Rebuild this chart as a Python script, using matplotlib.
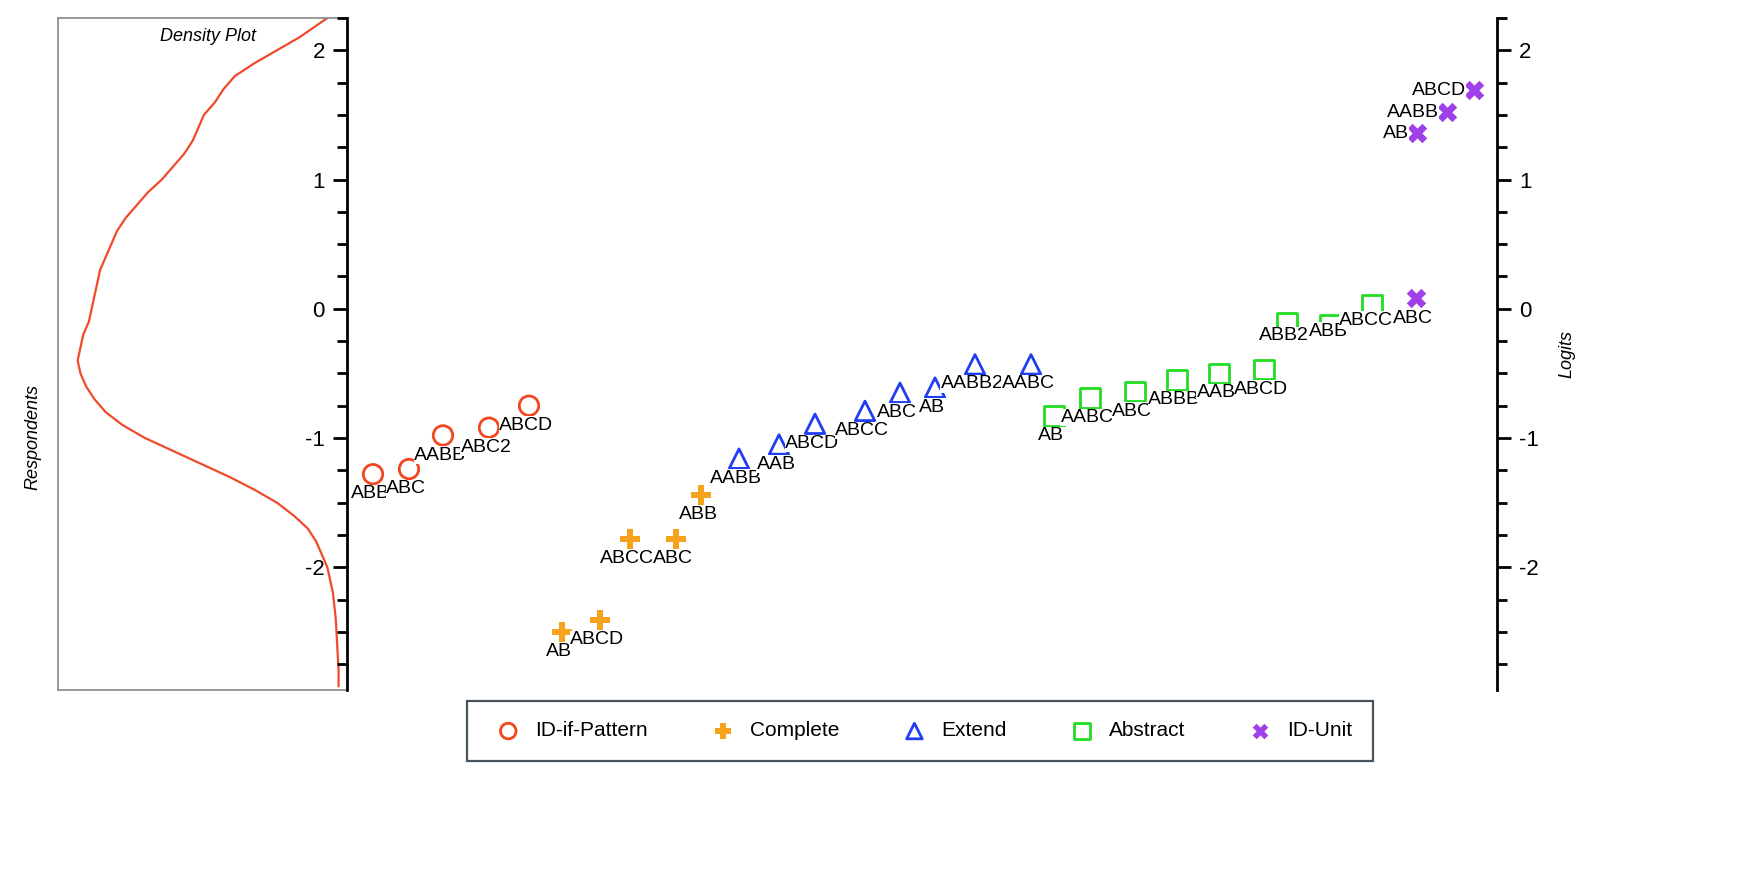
import matplotlib
matplotlib.use("Agg")
import matplotlib.pyplot as plt
from matplotlib.ticker import MultipleLocator, FuncFormatter
import numpy as np

plt.rcParams['font.family'] = ['Liberation Sans', 'DejaVu Sans']

# data: (position, logit, label)
idp_x = [26, 62, 96, 142, 182]
idp_y = [-1.28, -1.24, -0.98, -0.92, -0.75]
idp_l = ["ABB", "ABC", "AABB", "ABC2", "ABCD"]

comp_x = [215, 253, 283, 329, 354]
comp_y = [-2.50, -2.41, -1.78, -1.78, -1.44]
comp_l = ["AB", "ABCD", "ABCC", "ABC", "ABB"]

ext_x = [392, 432, 468, 518, 553, 588, 628, 684]
ext_y = [-1.16, -1.05, -0.89, -0.79, -0.65, -0.61, -0.43, -0.43]
ext_l = ["AABB", "AAB", "ABCD", "ABCC", "ABC", "AB", "AABB2", "AABC"]

abs_x = [707, 743, 788, 830, 872, 917, 940, 983, 1025]
abs_y = [-0.83, -0.69, -0.64, -0.55, -0.50, -0.47, -0.11, -0.12, 0.03]
abs_l = ["AB", "AABC", "ABC", "ABBB", "AAB", "ABCD", "ABB2", "ABB", "ABCC"]
abs_side = ["below"] * 6 + ["below2", "center", "belowc"]

idu_x = [1069, 1070, 1100, 1127]
idu_y = [0.08, 1.36, 1.52, 1.69]
idu_l = ["ABC", "AB", "AABB", "ABCD"]
idu_side = ["below", "left", "left", "left"]

dens_y = [2.25, 2.1, 2.0, 1.9, 1.8, 1.7, 1.6, 1.5, 1.4, 1.3, 1.2, 1.1, 1.0, 0.9, 0.8, 0.7, 0.6, 0.5,
          0.4, 0.3, 0.2, 0.1, 0.0, -0.1, -0.2, -0.3, -0.4, -0.5, -0.6, -0.7, -0.8, -0.9, -1.0, -1.1,
          -1.2, -1.3, -1.4, -1.5, -1.6, -1.7, -1.8, -1.9, -2.0, -2.2, -2.4, -2.6, -2.8, -2.92]
dens_v = [0.07, 0.17, 0.25, 0.33, 0.40, 0.44, 0.47, 0.51, 0.53, 0.55, 0.58, 0.62, 0.66, 0.71, 0.75,
          0.79, 0.82, 0.84, 0.86, 0.88, 0.89, 0.90, 0.91, 0.92, 0.94, 0.95, 0.96, 0.95, 0.93, 0.90,
          0.86, 0.80, 0.72, 0.62, 0.52, 0.42, 0.33, 0.25, 0.19, 0.14, 0.11, 0.09, 0.07, 0.05, 0.04,
          0.035, 0.03, 0.03]

fig = plt.figure(figsize=(17.4, 8.74), dpi=100)
axd = fig.add_axes([58/1740, 1-690/874, 289/1740, 672/874])
ax = fig.add_axes([347/1740, 1-690/874, 1150/1740, 672/874])

ylim = (-2.95, 2.25)
axd.plot(dens_v, dens_y, color='#f04a2a', lw=1.6)
axd.set_xlim(1.03, 0)
axd.set_ylim(*ylim)
axd.set_xticks([]); axd.set_yticks([])
for s in axd.spines.values():
    s.set_color('#888888'); s.set_linewidth(1.2)
axd.spines['right'].set_visible(False)
axd.text(0.52, 0.985, "Density Plot", transform=axd.transAxes, ha='center', va='top', style='italic', fontsize=13)
fig.text(0.019, 0.5, "Respondents", rotation=90, va='center', ha='center', style='italic', fontsize=13)

ax.set_xlim(0, 1150)
ax.set_ylim(*ylim)
ax.set_xticks([])
for s in ['top', 'bottom']:
    ax.spines[s].set_visible(False)
for s in ['left', 'right']:
    ax.spines[s].set_linewidth(2)
ax.yaxis.set_major_locator(MultipleLocator(1))
ax.yaxis.set_minor_locator(MultipleLocator(0.25))
ax.tick_params(axis='y', which='both', left=True, right=True, labelleft=True, labelright=True,
               width=2, labelsize=16, pad=6)
ax.tick_params(axis='y', which='major', length=10)
ax.tick_params(axis='y', which='minor', length=7)
ax.yaxis.set_major_formatter(FuncFormatter(lambda v, p: f"{int(round(v))}"))
ax.yaxis.set_label_position('right')
ax.set_ylabel("Logits", style='italic', fontsize=13, labelpad=14)

ms = 14
ax.scatter(idp_x, idp_y, marker='o', s=ms**2, facecolors='none', edgecolors='#f2461f', linewidths=2, label='ID-if-Pattern', zorder=2)
ax.scatter(comp_x, comp_y, marker='P', s=ms**2, color='#f5a21c', linewidths=0, label='Complete', zorder=2)
ax.scatter(ext_x, ext_y, marker='^', s=ms**2, facecolors='none', edgecolors='#1f3df2', linewidths=2, label='Extend', zorder=2)
ax.scatter(abs_x, abs_y, marker='s', s=ms**2, facecolors='none', edgecolors='#22dd22', linewidths=2, label='Abstract', zorder=2)
ax.scatter(idu_x, idu_y, marker='X', s=ms**2, color='#a040e8', linewidths=0, label='ID-Unit', zorder=2)

def lab(xs, ys, ls, sides=None):
    for i, (x, y, l) in enumerate(zip(xs, ys, ls)):
        side = sides[i] if sides else 'below'
        kw = dict(textcoords='offset points', fontsize=14, zorder=3,
                  bbox=dict(fc='white', ec='none', pad=0.3))
        if side == 'below':
            ax.annotate(l, (x, y), xytext=(-2, -8), ha='center', va='top', **kw)
        elif side == 'below2':
            ax.annotate(l, (x, y), xytext=(-2, -3), ha='center', va='top', **kw)
        elif side == 'belowc':
            ax.annotate(l, (x, y), xytext=(-4, -5), ha='center', va='top', **kw)
        elif side == 'center':
            ax.annotate(l, (x, y), xytext=(-1, -5), ha='center', va='center', **kw)
        else:
            ax.annotate(l, (x, y), xytext=(-6, 0), ha='right', va='center', **kw)

lab(idp_x, idp_y, idp_l)
lab(comp_x, comp_y, comp_l)
lab(ext_x, ext_y, ext_l)
lab(abs_x, abs_y, abs_l, abs_side)
lab(idu_x, idu_y, idu_l, idu_side)

leg = fig.legend(loc='center', bbox_to_anchor=(920/1740, 1-731/874), ncol=5, fontsize=15,
                 frameon=True, fancybox=False, edgecolor='#1a2a33', handletextpad=0.3,
                 columnspacing=2.6, borderpad=1.0, markerscale=0.8)
leg.get_frame().set_linewidth(1.6)

fig.savefig("out.png", dpi=100)
